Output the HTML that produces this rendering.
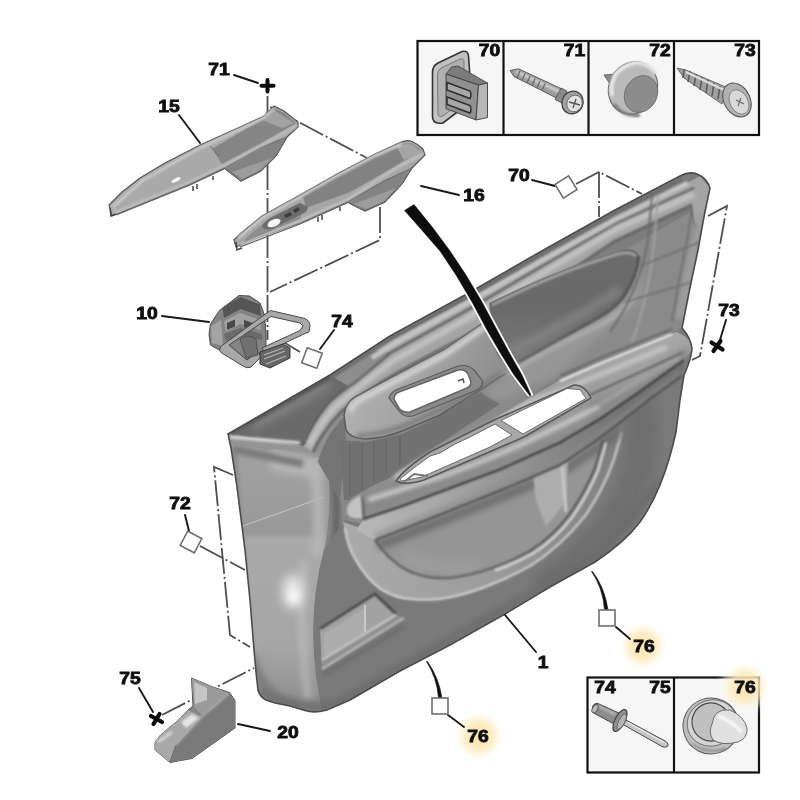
<!DOCTYPE html>
<html lang="en">
<head>
<meta charset="utf-8">
<title>Door panel diagram</title>
<style>
html,body{margin:0;padding:0;background:#fff;}
body{width:800px;height:800px;overflow:hidden;font-family:"Liberation Sans",sans-serif;}
svg{display:block;}
.lbl{font-family:"Liberation Sans",sans-serif;font-weight:bold;font-size:15.8px;fill:#0a0a0a;stroke:#0a0a0a;stroke-width:.8px;text-anchor:middle;}
.ld{stroke:#1a1a1a;stroke-width:1.9;fill:none;stroke-linecap:round;}
.dd{stroke:#4e4e4e;stroke-width:1.8;fill:none;stroke-dasharray:26 3 2 3;}
.sq{fill:#fff;stroke:#707070;stroke-width:1.6;}
</style>
</head>
<body>
<svg width="800" height="800" viewBox="0 0 800 800">
<defs>
<filter id="b1" filterUnits="userSpaceOnUse" x="0" y="0" width="800" height="800"><feGaussianBlur stdDeviation="1"/></filter>
<filter id="b2" filterUnits="userSpaceOnUse" x="0" y="0" width="800" height="800"><feGaussianBlur stdDeviation="2"/></filter>
<filter id="b3" filterUnits="userSpaceOnUse" x="0" y="0" width="800" height="800"><feGaussianBlur stdDeviation="3.5"/></filter>
<filter id="b6" filterUnits="userSpaceOnUse" x="0" y="0" width="800" height="800"><feGaussianBlur stdDeviation="6"/></filter>
<filter id="soft" filterUnits="userSpaceOnUse" x="0" y="0" width="800" height="800"><feGaussianBlur stdDeviation="0.6"/></filter>
<radialGradient id="hl"><stop offset="0" stop-color="#f8e09a" stop-opacity=".92"/><stop offset=".55" stop-color="#fae8b4" stop-opacity=".75"/><stop offset="1" stop-color="#fdf3d6" stop-opacity="0"/></radialGradient>
</defs>
<rect width="800" height="800" fill="#fff"/>

<g id="guides">
<path class="dd" d="M267.5,96 L267.5,296"/>
<path class="dd" d="M270,107 L367,158"/>
<path class="dd" d="M380,207 L380,240 L270,292"/>
<path class="dd" d="M267.5,296 L267.5,340"/>
<path class="dd" d="M300,352 L280,340"/>
<path class="dd" d="M576,184 L599,172 L642,194"/>
<path class="dd" d="M599,172 L599,217"/>
<path class="dd" d="M708,216 L727,206 L700,356 L692,360"/>
<path class="dd" d="M233,475 L214,467 L230,635 L250,647"/>
<path class="dd" d="M200,546 L245,570"/>
<path class="dd" d="M162,715 L254,668"/>
</g>
<!--DOOR-->
<g id="door" filter="url(#soft)">
<defs>
<clipPath id="dc"><path id="dsil" d="M228,434 L330,375 L390,336 L465,295 L540,252 L615,210 L680,176 Q690,171 697,174 Q707,178 710,188 L704.500,214 L698,250 L689.500,290 L682,328 Q691,338 692,349 Q691,360 684,375 L680,400 L676,432 Q670,460 660,485 Q652,505 640,522 Q625,542 595,562 L550,587 L505,614 L450,645 L400,671 L362,693 L350,700 L327,710 Q314,713.500 305,710.500 L290,706 L275,703 L266,700 Q260,697 258,690 L256,672 L254,650 L250,600 L245,550 L237,487 L231,448 Z"/></clipPath>
<linearGradient id="gbase" x1="0" y1="0" x2="1" y2="0"><stop offset="0" stop-color="#969696"/><stop offset=".5" stop-color="#868686"/><stop offset="1" stop-color="#7a7a7a"/></linearGradient>
<linearGradient id="gleft" x1="0" y1="0" x2="0" y2="1"><stop offset="0" stop-color="#a2a2a2"/><stop offset=".34" stop-color="#999"/><stop offset=".37" stop-color="#a9a9a9"/><stop offset=".75" stop-color="#a6a6a6"/><stop offset="1" stop-color="#8c8c8c"/></linearGradient>
<linearGradient id="garm" x1="0" y1="0" x2="0.35" y2="1"><stop offset="0" stop-color="#bcbcbc"/><stop offset=".5" stop-color="#9c9c9c"/><stop offset="1" stop-color="#7e7e7e"/></linearGradient>
<linearGradient id="gbez" x1="0" y1="0" x2="1" y2="0.4"><stop offset="0" stop-color="#bdbdbd"/><stop offset=".6" stop-color="#a2a2a2"/><stop offset="1" stop-color="#8a8a8a"/></linearGradient>
<linearGradient id="gring" gradientUnits="userSpaceOnUse" x1="350" y1="0" x2="620" y2="0"><stop offset="0" stop-color="#aaa"/><stop offset=".5" stop-color="#9c9c9c"/><stop offset=".8" stop-color="#8a8a8a"/><stop offset="1" stop-color="#7e7e7e"/></linearGradient>
<linearGradient id="gins" x1="0" y1="0" x2="0" y2="1"><stop offset="0" stop-color="#6c6c6c"/><stop offset=".5" stop-color="#6a6a6a"/><stop offset="1" stop-color="#7a7a7a"/></linearGradient>
</defs>
<use href="#dsil" fill="url(#gbase)"/>
<g clip-path="url(#dc)">
<!-- left flat panel -->
<path d="M229,440 L304,460 L326,456 Q334,500 324,550 Q308,610 316,675 L322,712 L250,712 Z" fill="url(#gleft)"/>
<path d="M304,560 Q298,620 308,700" stroke="#c4c4c4" stroke-width="6" fill="none" filter="url(#b3)" opacity=".7"/>
<ellipse cx="293" cy="592" rx="10" ry="17" fill="#fff" filter="url(#b6)" opacity=".8"/>
<ellipse cx="294" cy="597" rx="5" ry="6" fill="#fff" filter="url(#b3)" opacity=".85"/>
<path d="M270,448 L318,458 L322,480 L270,470Z" fill="#b6b6b6" filter="url(#b3)"/>
<path d="M233,452 L252,700" stroke="#858585" stroke-width="6" fill="none" filter="url(#b2)"/>
<path d="M243,526 L324,497" stroke="#d8d8d8" stroke-width="1" fill="none" opacity=".7"/>
<path d="M250,655 Q262,700 300,706" stroke="#7c7c7c" stroke-width="10" fill="none" filter="url(#b3)"/>
<!-- inner concave zone right of flat panel -->
<path d="M326,456 Q334,500 324,550 Q308,610 316,675 L322,712 L350,700 L350,560 Q340,520 356,505 L360,430 L340,420 Z" fill="#808080"/>
<path d="M334,452 Q344,520 335,560 Q322,620 328,696" stroke="#686868" stroke-width="12" fill="none" filter="url(#b2)"/>
<path d="M314,464 Q322,520 316,556" stroke="#b6b6b6" stroke-width="10" fill="none" filter="url(#b3)"/>
<path d="M341,470 Q346,520 340,560" stroke="#9a9a9a" stroke-width="4" fill="none" filter="url(#b2)"/>
<!-- block top face -->
<path d="M228,434 L330,375 L348,386 L304,446 Z" fill="#6b6b6b"/>
<path d="M252,428 L330,384" stroke="#808080" stroke-width="8" fill="none" filter="url(#b3)"/>
<path d="M230,437 L300,443" stroke="#cfcfcf" stroke-width="3.500" fill="none" filter="url(#b1)"/>
<path d="M229,442 L302,450" stroke="#949494" stroke-width="4" fill="none"/>
<path d="M232,449 L303,464" stroke="#7a7a7a" stroke-width="8" fill="none" filter="url(#b2)"/>
<!-- upper zone under rim -->
<path d="M318,462 Q326,432 348,414 Q380,392 420,370 L690,212 L700,250 L690,290 L682,328 L560,376 L360,498 L340,500Z" fill="#8a8a8a"/>
<path d="M318,462 Q326,432 348,414 Q380,392 420,370 L487,332 L494,352 L478,362 L440,362 L390,380 L355,397 L344,415 L346,440 L340,500Z" fill="#747474"/>
<!-- top rim band -->
<path d="M304,446 Q312,424 328,404 Q340,392 356,382 L392,352 L372,350 L700,176 L712,190 L707,226 L695,222 L692,206 L615,242 L540,292 L465,337 L400,372 Q360,394 340,414 Q324,432 312,452 Z" fill="#a4a4a4"/>
<path d="M232,434 L330,378 L390,339 L465,298 L540,255 L615,213 L682,179" stroke="#6c6c6c" stroke-width="4" fill="none" filter="url(#b1)"/>
<path d="M372,358 L392,345 L466,304 L541,261 L616,219 L688,183" stroke="#c2c2c2" stroke-width="5" fill="none" filter="url(#b1)"/>
<path d="M304,444 Q312,424 328,404 Q340,392 356,382 L392,352 L466,311 L541,267 L616,224 L694,188" stroke="#5c5c5c" stroke-width="2.200" fill="none" filter="url(#b1)"/>
<path d="M309,446 Q318,426 334,408 Q352,392 394,360 L466,319 L541,274 L616,229 L694,194" stroke="#c8c8c8" stroke-width="5" fill="none" filter="url(#b2)"/>
<path d="M313,452 Q322,432 340,413 Q360,394 400,371 L465,336 L540,291 L615,241 L692,205" stroke="#5a5a5a" stroke-width="2.500" fill="none" filter="url(#b1)"/>
<path d="M232,432 L330,377" stroke="#555" stroke-width="3" fill="none" filter="url(#b1)"/>
<!-- concave zone below bezel -->
<path d="M340,440 L366,442 L402,434 L440,416 L480,392 L500,404 L400,470 L360,500 L344,500Z" fill="#727272"/>
<path d="M350,444 L350,496 M362,444 L362,490 M374,442 L374,482 M386,440 L386,474 M400,436 L400,466" stroke="#5c5c5c" stroke-width="1" fill="none"/>
<!-- handle bezel -->
<path d="M344,415 Q346,402 355,397 L390,378 L445,349 L490,318 L497,352 L512,370 L500,377 L480,390 L440,415 L402,431 Q385,438 365,439 Q350,438 346,430 Z" fill="url(#gbez)" stroke="#585858" stroke-width="1.500"/>
<path d="M350,412 Q352,404 360,400 L392,383 L446,354 L488,325" stroke="#d6d6d6" stroke-width="5" fill="none" filter="url(#b2)"/>
<path d="M356,436 Q384,434 404,426 L442,409 Q470,396 500,374" stroke="#747474" stroke-width="4" fill="none" filter="url(#b2)"/>
<path d="M389,398 Q390,393 396,390 L458,366 Q468,364 474,370 L482,380 Q484,386 477,390 L413,416 Q404,418 399,411 Z" fill="#8a8a8a" stroke="#5a5a5a" stroke-width="1.200"/>
<path d="M394,399 Q394,394 399,392 L458,370 Q465,369 468,374 L471,382 Q471,386 467,388 L410,412 Q402,413 399,408 Z" fill="#fff" stroke="#666" stroke-width="1.500"/>
<path d="M458,381 l5,-2 l1,4" stroke="#555" stroke-width="1.500" fill="none"/>
<!-- dark insert -->
<path d="M490,336 L640,258 L644,300 L606,330 L560,372 L500,400 L484,392 L512,370Z" fill="#969696" filter="url(#b3)"/>
<path d="M489,303 Q560,268 618,251 Q634,246 639,255 Q638,275 623,297 Q614,308 600,316 L522,360 Q503,370 496,352 Z" fill="url(#gins)"/>
<path d="M492,305 Q560,271 618,254 Q630,251 636,256" stroke="#a8a8a8" stroke-width="2.500" fill="none" filter="url(#b1)"/>
<path d="M510,352 Q570,322 620,290" stroke="#858585" stroke-width="9" fill="none" filter="url(#b3)" opacity=".85"/>
<path d="M518,363 L600,317 Q614,309 623,298 Q638,276 639,256" stroke="#484848" stroke-width="2.500" fill="none" filter="url(#b1)"/>
<path d="M506,374 L560,344 L606,322 Q624,310 634,296" stroke="#b4b4b4" stroke-width="3.500" fill="none" filter="url(#b2)"/>
<!-- right upper panel seams -->
<path d="M702,214 L696,240 L689,272 L680,318" stroke="#9c9c9c" stroke-width="9" fill="none" filter="url(#b2)"/>
<path d="M692,208 L688,236 L680,276 L672,322" stroke="#6a6a6a" stroke-width="1.500" fill="none" filter="url(#b1)"/>
<path d="M652,196 L648,240 Q640,290 610,332" stroke="#6a6a6a" stroke-width="2" fill="none" filter="url(#b1)"/>
<path d="M658,196 L654,244 Q648,300 632,342" stroke="#a2a2a2" stroke-width="2" fill="none" filter="url(#b1)"/>
<path d="M640,266 L700,242 M625,302 L692,282" stroke="#6c6c6c" stroke-width="1.500" fill="none" filter="url(#b1)"/>
<!-- lower body below armrest -->
<path d="M345,520 L372,526 L440,510 L560,444 L640,394 L690,356 L680,400 L676,432 Q670,460 660,485 Q640,530 595,562 L335,708 L322,712 L316,675 Q308,610 324,550Z" fill="#7a7a7a"/>
<path d="M640,400 Q650,440 628,500 Q600,550 540,590" stroke="#6e6e6e" stroke-width="30" fill="none" filter="url(#b6)"/>
<!-- map pocket ring -->
<path d="M343,522 Q346,546 355,560 Q366,580 380,590 Q396,600 412,600 Q436,602 455,597 Q476,592 492,585 Q512,577 530,567 Q560,548 586,516 Q604,490 614,462 Q620,444 622,428 L596,440 L560,462 L372,532 Z" fill="url(#gring)"/>
<path d="M345,528 Q348,548 356,560 Q367,579 381,589 Q397,599 413,599 Q436,601 455,596 Q476,591 492,584 Q512,576 530,566 Q560,547 585,516 Q603,490 613,462 Q619,444 621,432" stroke="#c6c6c6" stroke-width="2.500" fill="none" filter="url(#b1)"/>
<!-- pocket interior -->
<path d="M374,538 Q380,548 387,555 Q398,566 412,572 Q430,578 450,577 Q472,574 492,567 Q512,560 530,550 Q552,536 568,514 Q584,492 594,468 L602,440 L560,460 Z" fill="#959595"/>
<path d="M400,556 Q440,572 480,566" stroke="#9e9e9e" stroke-width="12" fill="none" filter="url(#b6)"/>
<path d="M378.0,546.0 L443.0,520.5 L503.0,496.5 L533.0,484.0 L563.0,471.0 L593.0,451.0 L620.0,431.0" stroke="#686868" stroke-width="8" fill="none" filter="url(#b3)"/>
<path d="M533,476 L562,462 L568,462 L566,500 Q556,516 546,526 L536,500Z" fill="#adadad" filter="url(#b1)"/>
<path d="M562,464 L566,512" stroke="#c8c8c8" stroke-width="3" fill="none" filter="url(#b1)"/>
<path d="M375,540 Q381,549 388,556 Q399,567 413,573 Q430,579 450,578 Q472,575 492,568 Q512,561 530,551 Q552,537 569,515 Q585,492 595,468 L603,440" stroke="#5c5c5c" stroke-width="2.200" fill="none" filter="url(#b1)"/>
<path d="M492,568 Q512,561 530,551 Q552,537 569,515 Q585,492 595,468 L603,440" stroke="#d8d8d8" stroke-width="2.500" fill="none" filter="url(#b1)" transform="translate(3,2.500)"/>
<!-- armrest -->
<defs><linearGradient id="gund" gradientUnits="userSpaceOnUse" x1="370" y1="0" x2="690" y2="0"><stop offset="0" stop-color="#b6b6b6"/><stop offset=".25" stop-color="#a4a4a4"/><stop offset=".6" stop-color="#868686"/><stop offset=".8" stop-color="#727272"/><stop offset="1" stop-color="#6c6c6c"/></linearGradient></defs>
<path d="M364.0,519.0 L400.0,507.0 L440.0,492.0 L480.0,477.0 L500.0,469.5 L560.0,442.5 L600.0,419.0 L635.0,395.0 L684.0,360.0 L682.0,376.0 L650.0,399.0 L617.0,425.0 L590.0,445.0 L560.0,465.0 L530.0,478.0 L500.0,490.5 L440.0,514.5 L375.0,540.0 L356,530 Z" fill="url(#gund)"/>
<path d="M375.0,536.0 L440.0,510.5 L500.0,486.5 L530.0,474.0 L560.0,461.0 L590.0,441.0 L617.0,421.0 L650.0,395.0 L682.0,372.0" stroke="#8a8a8a" stroke-width="6" fill="none" filter="url(#b2)" opacity=".6"/>
<path d="M375.0,540.0 L440.0,514.5 L500.0,490.5 L530.0,478.0 L560.0,465.0 L590.0,445.0 L617.0,425.0 L650.0,399.0 L682.0,376.0" stroke="#4e4e4e" stroke-width="2" fill="none" filter="url(#b1)"/>
<path d="M345,512 Q346,498 362,492 L376,484 L400,474 L560,380 L676,332 Q692,338 692,350 L684.0,360.0 L635.0,395.0 L600.0,419.0 L560.0,442.5 L500.0,469.5 L480.0,477.0 L440.0,492.0 L400.0,507.0 L364.0,519.0 Q348,524 345,512Z" fill="url(#garm)"/>
<path d="M590,404 L640,380 L688,346 L686,360 L635,394 L590,426Z" fill="#7e7e7e" filter="url(#b3)" opacity=".9"/>
<path d="M364.0,514.0 L400.0,502.0 L440.0,487.0 L480.0,472.0 L500.0,464.5 L560.0,437.5 L600.0,414.0 L635.0,390.0 L684.0,355.0" stroke="#8c8c8c" stroke-width="6" fill="none" filter="url(#b2)"/>
<path d="M364.0,519.0 L400.0,507.0 L440.0,492.0 L480.0,477.0 L500.0,469.5 L560.0,442.5 L600.0,419.0 L635.0,395.0 L684.0,360.0" stroke="#3c3c3c" stroke-width="2.200" fill="none" filter="url(#b1)"/>
<path d="M368,500 L440,477 L480,462 L520,445 L555,428 L600,406" stroke="#d4d4d4" stroke-width="4" fill="none" filter="url(#b2)"/>
<path d="M600,404 L680,356" stroke="#a8a8a8" stroke-width="4" fill="none" filter="url(#b2)"/>
<path d="M395,478 L430,455 L480,430 L530,402 L575,385 L667,347" stroke="#cfcfcf" stroke-width="4" fill="none" filter="url(#b2)"/>
<path d="M590,395 L682,353" stroke="#666" stroke-width="2" fill="none" filter="url(#b1)"/>
<path d="M560,381 L600,363.500 L672,334" stroke="#e0e0e0" stroke-width="2.500" fill="none" filter="url(#b1)"/>
<path d="M560,376 L600,358 L672,329" stroke="#5e5e5e" stroke-width="1.500" fill="none" filter="url(#b1)"/>
<path d="M347,508 Q350,499 362,495 L363,518 Q352,520 347,514Z" fill="#c2c2c2" filter="url(#b1)"/>
<path d="M362,496 L364,520" stroke="#444" stroke-width="1.500" fill="none" filter="url(#b1)"/>
<!-- armrest openings -->
<path d="M396,481 Q404,469 430,452 L494,420 L574,385 Q585,385 591,398 L524,437 L466,462 L424,480 Q404,486 396,481Z" fill="#a8a8a8" stroke="#585858" stroke-width="1.500"/>
<path d="M400,479 L415,467 L430,456 L440,453 L455,444 L470,437 L495,424 L512,435 L490,447 L465,458 L440,469 L422,477 L402,481 Z" fill="#fff" stroke="#6a6a6a" stroke-width="1"/>
<path d="M501,420.500 L567,388.500 L580,389.500 L586,398.500 L523,434 Z" fill="#fff" stroke="#6a6a6a" stroke-width="1"/>
<path d="M404,482 l10,-8 l14,2" stroke="#777" stroke-width="2" fill="none"/>
<!-- lower-left recess -->
<path d="M320,629 L375,594 L396,614 L400,620 L322,670 Z" fill="#a2a2a2"/>
<path d="M322,660 L396,615 L404,618 L322,670Z" fill="#8f8f8f"/>
<path d="M320,629 L375,594 L396,614" stroke="#474747" stroke-width="2.600" fill="none" filter="url(#b1)"/>
<path d="M324,634 L365,608 L365,632 L324,657Z" fill="#acacac"/>
<path d="M365,605 L365,632" stroke="#d4d4d4" stroke-width="1.500" fill="none"/>
<path d="M322,660 L396,615" stroke="#d2d2d2" stroke-width="2" fill="none" filter="url(#b1)"/>
<path d="M322,669 L404,618" stroke="#b8b8b8" stroke-width="2.500" fill="none" filter="url(#b1)"/>
<path d="M322,676 L404,626" stroke="#6c6c6c" stroke-width="4" fill="none" filter="url(#b2)"/>
<!-- bottom band -->
<path d="M258,692 Q300,714 340,702 L600,554 L662,480" stroke="#6c6c6c" stroke-width="8" fill="none" filter="url(#b3)"/>
</g>
<use href="#dsil" fill="none" stroke="#4c4c4c" stroke-width="1.600"/>
</g>
<!--/DOOR-->
<!--PARTS-->
<g id="parts" filter="url(#soft)">
<!-- part 15 -->
<g id="p15">
<path d="M109,205 L122,192 L140,178 L165,163 L200,145 L240,127 L264,116 L274,106 L284,111 L298,122 L298,127 L287,137 L276,156 L261,171 L241,181 L224,168 L190,184 L112,216 Z" fill="#a9a9a9" stroke="#555" stroke-width="1.200"/>
<path d="M224,168 L241,181 L261,171 L276,156 L287,137 L262,147 Z" fill="#838383" stroke="#5a5a5a" stroke-width=".8"/>
<path d="M232,172 L242,179 L260,170 L272,158Z" fill="#9c9c9c"/>
<path d="M212,149 L264,118 L274,108 L284,113 L296,123 L262,143 L222,164 Z" fill="#858585"/>
<path d="M262,120 L274,110 L294,123 L282,128 Z" fill="#a2a2a2"/>
<path d="M113,207 L142,181 L200,148 L262,119 L274,109" stroke="#cdcdcd" stroke-width="2.500" fill="none" filter="url(#b1)"/>
<path d="M114,213 L190,182 L224,166 L262,145 L297,126" stroke="#c0c0c0" stroke-width="2.500" fill="none" filter="url(#b1)"/>
<path d="M116,215 L190,185 L224,169" stroke="#5e5e5e" stroke-width="1.200" fill="none"/>
<path d="M210,146 L219,156" stroke="#6e6e6e" stroke-width="1" fill="none"/>
<ellipse cx="176" cy="180" rx="5" ry="1.800" transform="rotate(-27 176 180)" fill="#f4f4f4"/>
<path d="M110,208 l1,8 l5,-2 M193,186 v5 M197,184 v5 M213,176 v4" stroke="#444" stroke-width="1.500" fill="none"/>
</g>
<!-- part 16 -->
<g id="p16">
<path d="M234,240 L240,234 L262,216 L300,195 L337,174 L375,154 L400,142.500 Q406,140 411,141 Q418,144 423,149 L425,155 L412,168 L402,184 L385,202 L365,211 L347,202 L300,223 L255,239 L236,247 Z" fill="#a6a6a6" stroke="#555" stroke-width="1.200"/>
<path d="M347,202 L365,211 L385,202 L402,184 L412,168 L386,180 Z" fill="#838383" stroke="#5a5a5a" stroke-width=".8"/>
<path d="M354,204 L366,209 L384,201 L396,188Z" fill="#9c9c9c"/>
<path d="M303,196 L337,176 L375,156 L402,144 L411,143 L421,150 L396,166 L350,192 L306,208 Z" fill="#828282"/>
<path d="M396,146 L410,143 L421,151 L404,160 Z" fill="#a4a4a4"/>
<path d="M238,238 L262,218 L300,197 L337,176 L375,156 L402,144" stroke="#d0d0d0" stroke-width="2.500" fill="none" filter="url(#b1)"/>
<path d="M240,245 L300,221 L347,200 L396,168 L423,154" stroke="#c4c4c4" stroke-width="2.500" fill="none" filter="url(#b1)"/>
<path d="M240,247 L300,224 L347,203" stroke="#5e5e5e" stroke-width="1.200" fill="none"/>
<path d="M246,238 L264,223 L300,202.500 L304,208 L300,219 L256,237 L244,242Z" fill="#8e8e8e"/>
<path d="M262,226 Q264,222 270,218 L300,203 L308,207 L306,212 L272,229 Q264,231 262,226Z" fill="#6c6c6c"/>
<ellipse cx="274" cy="223" rx="7" ry="3.500" transform="rotate(-25 274 223)" fill="#f6f6f6"/>
<path d="M284,215 l6,-3 l2,3 l-6,3z M293,210 l5,-3 l2,3 l-5,3z" fill="#3c3c3c"/>
<path d="M236,242 l1,8 l5,-2 M318,217 v5 M322,215 v5 M340,207 v4" stroke="#444" stroke-width="1.500" fill="none"/>
</g>
<!-- part 10 -->
<g id="p10">
<path d="M209,334.500 L210.500,324 L219.500,310.500 L239,295.500 L249.500,296 L260,303 L264.500,315 L266,334 L266,350 L245,361 L221,351 L210.500,345 Z" fill="#848484" stroke="#4a4a4a" stroke-width="1"/>
<path d="M222.500,307.500 L240.500,297 L260,304.500 L261,316 L240.500,309 L224,318 Z" fill="#565656"/>
<path d="M211,326 L221,320 L223,346 L212,343 Z" fill="#a4a4a4"/>
<path d="M224,321 L240,313 L260,320 L261,330 L240,324 L226,332Z" fill="#a2a2a2"/>
<path d="M227,323 l8,-3.500 v7 l-8,3.500z M244,320 l9,3 v7 l-9,-3z" fill="#484848"/>
<path d="M224,334 L240,328 L262,334 L262,340 L240,335 L226,341Z" fill="#6a6a6a"/>
<path d="M270.500,310.500 L305,318.500 Q310,321 310,326 L309,332 L304,334 L264.500,352.500 L262,348 L300,330.500 L303,326 L300,323 L271,316.500 L229,345 L247,360 L257,352 L262,356 L251,367 Q247,369 243,366 L221,352.500 Q218,349 222,345.500 L264,315 Z" fill="#a8a8a8" stroke="#484848" stroke-width="1"/>
<path d="M240,339 Q248,333 256,339 L258,355 L246,358Z" fill="#707070" stroke="#484848" stroke-width=".8"/>
<path d="M260,352 L283,344 L290,348 L290,358 L270,368 L260,364 Z" fill="#666" stroke="#3a3a3a" stroke-width="1"/>
<path d="M264,355 l19,-7 M264,359 l21,-8 M266,364 l20,-8" stroke="#b8b8b8" stroke-width="1.200"/>
</g>
<!-- part 20 -->
<g id="p20">
<path d="M191.500,678 L213,687 L229.500,692.500 L235,700.500 L235,728 L192,758.500 L170,762.500 L155,750 L155,742 L160.500,735 L178.500,720 L188,710 L193,706 Z" fill="#858585" stroke="#555" stroke-width="1"/>
<path d="M191.500,678 L213,687 L229,693 L213,708 L202,716 L194,706 Z" fill="#9a9a9a"/>
<path d="M194,682 L207,688 L207,700 L195,704Z" fill="#c4c4c4"/>
<path d="M176,745 L202,717 L213,709 L229.500,694 L235,700.500 L235,728 L192,758.500 L170,762.500 Z" fill="#7a7a7a"/>
<path d="M155,742 L160.500,735 L178.500,720 L188,710 L202,717 L176,745 L170,762.500 L155,750 Z" fill="#a8a8a8"/>
<path d="M181,722 L192,714 L199,718 L186,728Z" fill="#e4e4e4" filter="url(#b1)"/>
<path d="M158,742 L172,732" stroke="#d4d4d4" stroke-width="3" fill="none" filter="url(#b1)"/>
<path d="M176,745 L170,762" stroke="#666" stroke-width="1" fill="none"/>
<path d="M176,745 L202,717 L229,694" stroke="#b0b0b0" stroke-width="1.500" fill="none" filter="url(#b1)"/>
</g>
<!-- black tapered strip -->
<path d="M402.7,210.5 L418.2,228.0 L438.2,251.0 L454.2,275.0 L470.2,302.0 L485.2,330.0 L499.2,354.0 L512.2,375.0 L528.2,396.0 L532.8,395.0 L523.8,375.0 L511.8,354.0 L498.8,330.0 L483.8,302.0 L467.8,275.0 L451.8,251.0 L434.8,228.0 L415.8,204.5 Z" fill="#fff" stroke="#fff" stroke-width="1" stroke-linejoin="round"/>
<path d="M404.5,210.5 L420.0,228.0 L440.0,251.0 L456.0,275.0 L472.0,302.0 L487.0,330.0 L501.0,354.0 L514.0,375.0 L530.0,396.0 L531.0,395.0 L522.0,375.0 L510.0,354.0 L497.0,330.0 L482.0,302.0 L466.0,275.0 L450.0,251.0 L433.0,228.0 L414.0,204.5 Z" fill="#0b0b0b" stroke="#0b0b0b" stroke-width=".5" stroke-linejoin="round"/>
</g>
<!--/PARTS-->
<!--BOXES-->
<g id="boxes">
<rect x="417.500" y="41" width="341.500" height="94" fill="#f6f6f6" stroke="#111" stroke-width="2.200"/>
<path d="M503.500,41 V135 M588.500,41 V135 M674,41 V135" stroke="#111" stroke-width="2.200"/>
<rect x="587.500" y="677.500" width="171.500" height="95" fill="#f6f6f6" stroke="#111" stroke-width="2.200"/>
<path d="M674,677.500 V772.500" stroke="#111" stroke-width="2.200"/>
<circle cx="745" cy="687" r="26" fill="#fff" opacity=".35" filter="url(#b3)"/>
<circle cx="745" cy="687" r="25" fill="url(#hl)"/>
<g class="lbl" filter="url(#soft)">
<text transform="translate(489.500,55.700) scale(1.22,1)">70</text>
<text transform="translate(574.500,55.700) scale(1.22,1)">71</text>
<text transform="translate(660,55.700) scale(1.22,1)">72</text>
<text transform="translate(745,55.700) scale(1.22,1)">73</text>
<text transform="translate(605,693) scale(1.22,1)">74</text>
<text transform="translate(660,693) scale(1.22,1)">75</text>
<text transform="translate(745,693) scale(1.22,1)">76</text>
</g>
</g>
<g id="boxparts" filter="url(#soft)">
<!-- clip 70 -->
<g>
<path d="M432.500,72 Q432.500,66 438,63 L462,51.500 Q468,50 468.500,56 L469.500,70 L469.500,104 L456,113 L443,123 Q433,124.500 432.500,117 Z" fill="#c2c2c2" stroke="#333" stroke-width="1.600"/>
<path d="M437.500,75 Q437.500,70 441,68 L460,59 Q464,58 464,62 L464,100 L443,116 Q438,118 438,113 Z" fill="#b0b0b0" stroke="#777" stroke-width="1"/>
<path d="M446,74 L451.500,67 L458,66 L487.500,83 L478.500,85 Z" fill="#7c7c7c" stroke="#3c3c3c" stroke-width=".8"/>
<path d="M446,74 L478.500,85 L476,120 L446,108.600 Z" fill="#909090" stroke="#3c3c3c" stroke-width=".9"/>
<path d="M478.500,85 L487.500,83 L487.500,117.600 L476,120 Z" fill="#b6b6b6" stroke="#3c3c3c" stroke-width=".9"/>
<path d="M447,82.500 L470,91 Q472,95 470,98.500 L447,90 Z" fill="#a8a8a8" stroke="#2e2e2e" stroke-width="1.500"/>
<path d="M447,97 L470,105.500 Q472,109.500 470,113 L447,104.500 Z" fill="#a8a8a8" stroke="#2e2e2e" stroke-width="1.500"/>
</g>
<!-- screw 71 -->
<g>
<path d="M510,70.500 L518.500,68.800 L563,89.500 L558.500,99 L514,76.500 Z" fill="#9c9c9c" stroke="#4e4e4e" stroke-width=".9"/>
<path d="M516,71.500 L561,92.500" stroke="#d4d4d4" stroke-width="2.500" fill="none" filter="url(#b1)"/>
<path d="M520,71 l-3,7 M525,73.500 l-3,7 M530,76 l-3,7 M535,78.500 l-3,7 M540,81 l-3,7 M545,83.500 l-3,7" stroke="#666" stroke-width="1.200"/>
<path d="M561,88 L567,91 L562,103 L555,99.500Z" fill="#8a8a8a" stroke="#4e4e4e" stroke-width=".8"/>
<ellipse cx="572.500" cy="102.500" rx="10.500" ry="11.500" transform="rotate(25 572.500 102.500)" fill="#a0a0a0" stroke="#3e3e3e" stroke-width="1.200"/>
<ellipse cx="574.500" cy="103.500" rx="7.500" ry="8.500" transform="rotate(25 574.500 103.500)" fill="#e2e2e2" stroke="#666" stroke-width=".8"/>
<path d="M569,102 L580,105 M576,99 L573,108" stroke="#555" stroke-width="1.300"/>
</g>
<!-- button 72 -->
<g>
<path d="M604,75 L616,74 L618,82 L610,84 Z" fill="#8a8a8a" stroke="#555" stroke-width=".8"/>
<ellipse cx="633" cy="88" rx="24" ry="27" transform="rotate(28 633 88)" fill="#b9b9b9" stroke="#5a5a5a" stroke-width="1"/>
<path d="M612,96 Q608,70 634,63 Q650,62 656,74" stroke="#e6e6e6" stroke-width="4" fill="none" filter="url(#b1)"/>
<ellipse cx="641" cy="94" rx="16" ry="19" transform="rotate(28 641 94)" fill="#8c8c8c" stroke="#6a6a6a" stroke-width=".8"/>
<path d="M614,104 Q624,118 640,115" stroke="#777" stroke-width="3" fill="none" filter="url(#b1)"/>
</g>
<!-- screw 73 -->
<g>
<path d="M677,68 L686,70 L728,88 L722,104 L684,78 Z" fill="#a0a0a0" stroke="#555" stroke-width=".8"/>
<path d="M684,69 l-1,9 M690,71 l-2,11 M696,74 l-2,12 M702,77 l-2,13 M708,80 l-2,13 M714,83 l-2,13 M720,86 l-2,13" stroke="#5a5a5a" stroke-width="1.600"/>
<path d="M686,72 L724,90" stroke="#dedede" stroke-width="2" fill="none"/>
<ellipse cx="737" cy="100" rx="13" ry="18" transform="rotate(-28 737 100)" fill="#b0b0b0" stroke="#4e4e4e" stroke-width="1"/>
<ellipse cx="739" cy="102" rx="9" ry="13" transform="rotate(-28 739 102)" fill="#d8d8d8" stroke="#777" stroke-width=".8"/>
<path d="M736,100 L744,104 M741,98 L738,106" stroke="#666" stroke-width="1.200"/>
</g>
<!-- rivet 74/75 -->
<g>
<path d="M625,719.500 L666,741.500 Q669.500,744.500 667.500,746.500 Q665,748 662,746.500 L623,724.500 Z" fill="#c6c6c6" stroke="#484848" stroke-width="1"/>
<path d="M628,722.500 L664,742.500" stroke="#ececec" stroke-width="1.200" fill="none"/>
<path d="M597.700,703.400 L620,713.500 L614,724 L594.500,713.500 Q591,709 593,705.500 Q595,703 597.700,703.400Z" fill="#8c8c8c" stroke="#404040" stroke-width="1"/>
<path d="M598,706 L616,714.500" stroke="#bdbdbd" stroke-width="2" fill="none" filter="url(#b1)"/>
<ellipse cx="595" cy="708.800" rx="2.600" ry="4.600" transform="rotate(27 595 708.800)" fill="#b8b8b8" stroke="#484848" stroke-width=".8"/>
<ellipse cx="620" cy="720.500" rx="5" ry="12" transform="rotate(27 620 720.500)" fill="#8e8e8e" stroke="#383838" stroke-width="1.100"/>
<ellipse cx="622" cy="721.500" rx="3" ry="8.500" transform="rotate(27 621.500 721)" fill="#b4b4b4" stroke="#5a5a5a" stroke-width=".7"/>
</g>
<!-- clip 76 -->
<g>
<ellipse cx="711" cy="726" rx="28" ry="28" transform="rotate(-18 711 726)" fill="#bdbdbd" stroke="#5a5a5a" stroke-width="1"/>
<ellipse cx="712" cy="723" rx="25" ry="23" transform="rotate(-18 712 723)" fill="#d4d4d4" stroke="#6e6e6e" stroke-width=".9"/>
<ellipse cx="711" cy="722" rx="19" ry="19" transform="rotate(-18 711 722)" fill="#c0c0c0" stroke="#4a4a4a" stroke-width="1.200"/>
<path d="M712,724 Q714,708 730,710 Q744,716 747,728 Q748,738 738,742 Q722,746 713,740 Q708,732 712,724Z" fill="#e0e0e0" stroke="#5e5e5e" stroke-width=".9"/>
<path d="M718,716 Q730,720 742,732" stroke="#f8f8f8" stroke-width="3" fill="none" filter="url(#b1)"/>
<path d="M692,744 Q706,754 726,749" stroke="#7a7a7a" stroke-width="1.500" fill="none" filter="url(#b1)"/>
</g>
</g>
<!--/BOXES-->
<!--LABELS-->
<g id="labels">
<!-- highlights -->
<circle cx="643" cy="646" r="24" fill="url(#hl)"/>
<circle cx="479" cy="736" r="25" fill="url(#hl)"/>
<!-- dash-dot guide lines -->
<!-- leader lines -->
<path class="ld" d="M234,75 L258,83"/>
<path class="ld" d="M179,115 L200,143"/>
<path class="ld" d="M162,316 L209,322"/>
<path class="ld" d="M334,330 L320,349"/>
<path class="ld" d="M421,186 L459,195"/>
<path class="ld" d="M532,180 L555,186"/>
<path class="ld" d="M726,320 L720,340"/>
<path class="ld" d="M185,515 L189,531"/>
<path class="ld" d="M139,688 L153,712"/>
<path class="ld" d="M238,724 L270,731"/>
<path class="ld" d="M505,615 L536,652"/>
<path d="M591.500,571.500 Q603,588 604.500,610 L608,610 Q605,588 592.500,571.500Z" fill="#111" stroke="#111" stroke-width=".6"/>
<path class="ld" d="M616,627 L630,639"/>
<path d="M426.500,661.500 Q437,678 438.500,698 L442,698 Q439,678 427.500,661.500Z" fill="#111" stroke="#111" stroke-width=".6"/>
<path class="ld" d="M448,715 L464,727"/>
<!-- squares -->
<rect class="sq" x="-8" y="-8" width="16" height="16" transform="translate(566,187) rotate(-32)"/>
<rect class="sq" x="-8" y="-8" width="16" height="16" transform="translate(312,358) rotate(20)"/>
<rect class="sq" x="-8" y="-8" width="16" height="16" transform="translate(191,542) rotate(28)"/>
<rect class="sq" x="599" y="610" width="16" height="16"/>
<rect class="sq" x="432" y="698" width="16" height="16"/>
<!-- plus / x marks -->
<path d="M267.500,80 v11.500 M261.500,85.700 h12" stroke="#0a0a0a" stroke-width="4" stroke-linecap="round" fill="none"/>
<path d="M-5.500,-3.500 L5.500,3.500 M-3.500,5 L3.500,-5" transform="translate(717,346)" stroke="#0a0a0a" stroke-width="4.200" stroke-linecap="round" fill="none"/>
<path d="M-5.500,-3 L5.500,3 M-3,5 L3,-5" transform="translate(156.500,719)" stroke="#0a0a0a" stroke-width="4.200" stroke-linecap="round" fill="none"/>
<!-- numbers -->
<g class="lbl" filter="url(#soft)">
<text transform="translate(219,75) scale(1.22,1)">71</text>
<text transform="translate(169,111.500) scale(1.22,1)">15</text>
<text transform="translate(147,319) scale(1.22,1)">10</text>
<text transform="translate(342,326.500) scale(1.22,1)">74</text>
<text transform="translate(474,200.500) scale(1.22,1)">16</text>
<text transform="translate(519,180.500) scale(1.22,1)">70</text>
<text transform="translate(729,315.500) scale(1.22,1)">73</text>
<text transform="translate(180,508.500) scale(1.22,1)">72</text>
<text transform="translate(130,684) scale(1.22,1)">75</text>
<text transform="translate(288,737.500) scale(1.22,1)">20</text>
<text transform="translate(543,668) scale(1.22,1)">1</text>
<text transform="translate(644,652) scale(1.22,1)">76</text>
<text transform="translate(478,741.500) scale(1.22,1)">76</text>
</g>
</g>
<!--/LABELS-->
</svg>
</body>
</html>
